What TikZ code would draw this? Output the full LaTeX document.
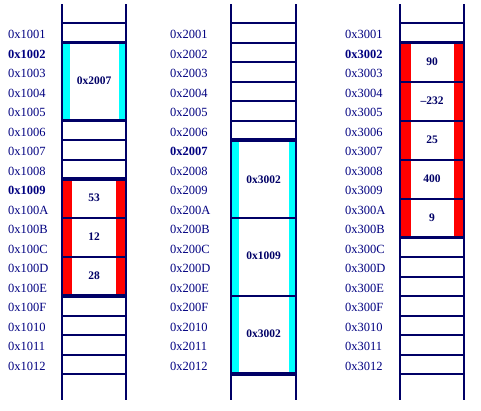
\documentclass[tikz,border=0pt]{standalone}
\usepackage{fontspec}
\setmainfont{Liberation Serif}
\usetikzlibrary{positioning}
\definecolor{memline}{RGB}{0,0,102}
\definecolor{memtext}{RGB}{0,0,128}
\definecolor{ptrbar}{RGB}{0,255,255}
\definecolor{intbar}{RGB}{255,0,0}
\tikzset{
  addr/.style={anchor=west,inner sep=0pt,text=memtext,font=\fontsize{12.5}{14}\selectfont},
  addrb/.style={addr,font=\bfseries\fontsize{12.5}{14}\selectfont},
  val/.style={inner sep=0pt,text=memline,font=\bfseries\fontsize{11.5}{14}\selectfont},
  cell/.style={line width=2pt,draw=memline},
  edge/.style={line width=3.2pt,draw=memline}
}

\begin{document}
\begin{tikzpicture}[x=1pt,y=-1pt]
\useasboundingbox (0,0) rectangle (481,410);
% row k starts at 23+19.5k
% --- coloured side bars
\fill[ptrbar] (62,43) rectangle (70,121); \fill[ptrbar] (119,43) rectangle (126,121);
\fill[intbar] (62,180) rectangle (72,296); \fill[intbar] (116,180) rectangle (126,296);
\fill[ptrbar] (231,140) rectangle (239,374); \fill[ptrbar] (289,140) rectangle (296,374);
\fill[intbar] (400,43) rectangle (411,238); \fill[intbar] (454,43) rectangle (464,238);
% --- row lines
\foreach \k in {0,6,7,10,12,15,16,17,18} \draw[cell] (62,{23+19.5*\k}) -- (126,{23+19.5*\k});
\foreach \k in {1,5,8,14} \draw[edge] (62,{23+19.5*\k}) -- (126,{23+19.5*\k});
\foreach \k in {0,1,2,3,4,5,10,14} \draw[cell] (231,{23+19.5*\k}) -- (296,{23+19.5*\k});
\foreach \k in {6,18} \draw[edge] (231,{23+19.5*\k}) -- (296,{23+19.5*\k});
\foreach \k in {0,3,5,7,9,12,13,14,15,16,17,18} \draw[cell] (400,{23+19.5*\k}) -- (464,{23+19.5*\k});
\foreach \k in {1,11} \draw[edge] (400,{23+19.5*\k}) -- (464,{23+19.5*\k});
% --- column walls
\foreach \x in {62,126,231,296,400,464} \draw[line width=2.4pt,memline] (\x,4) -- (\x,400);
% --- addresses
\foreach \c/\x/\bA/\bB in {1/8/1/8,2/170/6/6,3/345/1/1}{
  \foreach \h [count=\k from 0] in {01,02,03,04,05,06,07,08,09,0A,0B,0C,0D,0E,0F,10,11,12}{
    \def\st{addr}
    \ifnum\k=\bA \def\st{addrb}\fi
    \ifnum\k=\bB \def\st{addrb}\fi
    \node[\st] (a\c\h) at (\x,{34.5+19.5*\k}) {0x\c0\h};
  }
}
% --- stored values
\node[val] (p1) at (94,81) {0x2007};
\node[val] (n1) at (94,198) {53};
\node[val] (n2) at (94,237) {12};
\node[val] (n3) at (94,276) {28};
\node[val] (q1) at (263.5,180) {0x3002};
\node[val] (q2) at (263.5,256) {0x1009};
\node[val] (q3) at (263.5,334) {0x3002};
\node[val] (m1) at (432,62) {90};
\node[val] (m2) at (432,101) {--232};
\node[val] (m3) at (432,140) {25};
\node[val] (m4) at (432,179) {400};
\node[val] (m5) at (432,218) {9};
\end{tikzpicture}
\end{document}
